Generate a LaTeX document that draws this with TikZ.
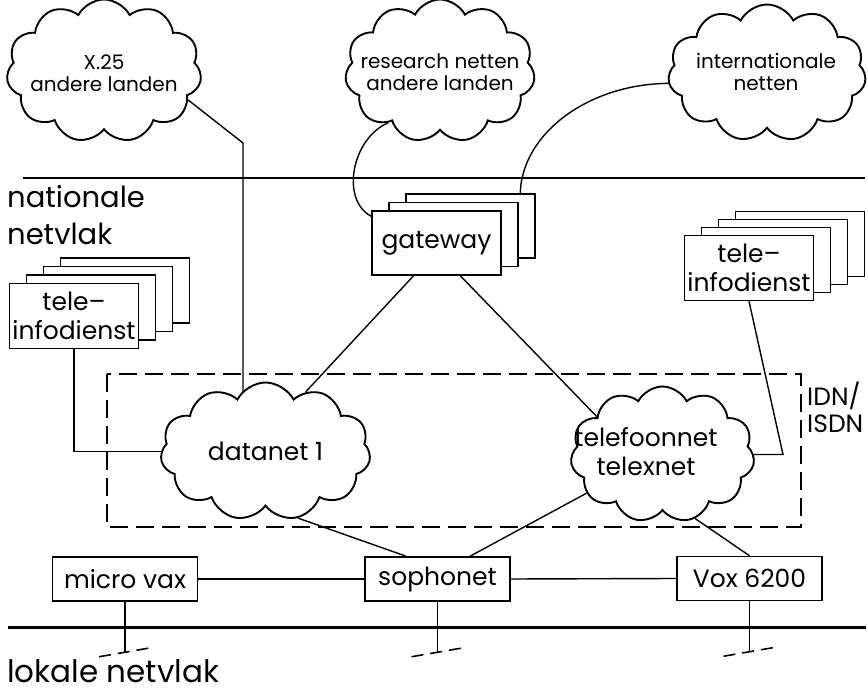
\documentclass[tikz,border=0pt]{standalone}
\usepackage{fontspec}
\setmainfont{Poppins}
\usetikzlibrary{shapes.symbols,calc}
\pgfdeclarelayer{bg}
\pgfsetlayers{bg,main}
\tikzset{
  txtbig/.style={font=\fontsize{25}{29}\selectfont},
  txtsmall/.style={font=\fontsize{20}{22}\selectfont},
  txtlevel/.style={font=\fontsize{29}{33}\selectfont},
  unitbox/.style={draw, line width=1.5pt, fill=white, inner sep=0pt, align=center, txtbig},
  gwbox/.style={unitbox, minimum width=129pt, minimum height=64pt},
  infobox/.style={unitbox, minimum width=129pt, minimum height=65pt},
  lanbox/.style={unitbox, minimum width=145pt, minimum height=44pt},
  netcloud/.style={cloud, draw, fill=white, line width=1.9pt, cloud puffs=11,
    cloud puff arc=125, cloud ignores aspect, inner sep=0pt, align=center},
  cloudtext/.style={txtsmall, align=center, inner sep=0pt},
  link/.style={line width=1.4pt},
  tapdash/.style={line width=1.6pt, dash pattern=on 12pt off 7pt},
}
\begin{document}
\begin{tikzpicture}[x=1pt,y=-1pt]
\useasboundingbox (0,0) rectangle (868,692);

% level boundaries
\draw[line width=1.8pt] (23,178) -- (865,178);
\draw[line width=3pt] (8,627) -- (866,627);

% IDN/ISDN domain
\draw[line width=1.5pt, dash pattern=on 18pt off 8pt] (107,374) rectangle (801,527);
\node[txtbig, anchor=base west, inner sep=0pt] (idn) at (807,406) {IDN/};
\node[txtbig, anchor=base west, inner sep=0pt] (isdn) at (807,433) {ISDN};

% level labels
\node[txtlevel, anchor=base west, inner sep=0pt, text depth=0pt] (nat1) at (7,208) {nationale};
\node[txtlevel, anchor=base west, inner sep=0pt, text depth=0pt] (nat2) at (7,245) {netvlak};
\node[font=\fontsize{31}{35}\selectfont, anchor=base west, inner sep=0pt, text depth=0pt] (lok) at (7,682) {lokale netvlak};

% external networks
\node[netcloud, minimum width=195pt, minimum height=143pt] (x25) at (104,71) {};
\node[cloudtext] (x25lbl) at (104,73) {X.25\\andere landen};
\node[netcloud, minimum width=190pt, minimum height=143pt] (rs) at (440,71) {};
\node[cloudtext] (rslbl) at (440,72) {research netten\\andere landen};
\node[netcloud, minimum width=198pt, minimum height=137pt] (in) at (767,73) {};
\node[cloudtext] (inlbl) at (766,72) {internationale\\netten};

% gateway stack
\node[gwbox] (gw3) at (470.5,226) {};
\node[gwbox] (gw2) at (453.5,234.5) {};
\node[gwbox] (gw) at (436.5,243) {gateway};

% left information service stack
\node[infobox] (lt4) at (125,290.5) {};
\node[infobox] (lt3) at (108,299) {};
\node[infobox] (lt2) at (91,307.5) {};
\node[infobox] (lt) at (74,316) {tele--\\infodienst};

% right information service stack
\node[infobox] (rt4) at (800,244) {};
\node[infobox] (rt3) at (783,252) {};
\node[infobox] (rt2) at (766,260) {};
\node[infobox] (rt) at (749,268) {tele--\\infodienst};

% national networks
\node[netcloud, txtbig, minimum width=210pt, minimum height=138pt] (dn) at (265.5,451.5) {datanet 1};
\node[netcloud, minimum width=184pt, minimum height=136pt] (tel) at (662.5,454.5) {};
\node[txtbig, align=center, inner sep=0pt] (tellbl) at (646,452) {telefoonnet\\telexnet};

% local systems
\node[lanbox] (mv) at (125,579) {micro vax};
\node[lanbox] (soph) at (437.5,579) {sophonet};
\node[lanbox] (vox) at (749.5,578.5) {Vox 6200};

% connections
\coordinate (kx) at (243,143);
\coordinate (rk) at (783,454.5);
\begin{pgfonlayer}{bg}
  \draw[link] (x25.-19) -- (kx) -- (kx |- dn.center);
\end{pgfonlayer}
\draw[link] (rs.-135) .. controls (352,138) and (340,200) .. ($(gw.north west)+(0,6)$);
\draw[link] (in.186) .. controls (589,84) and (522,133) .. ($(gw3.north west)+(115,0)$);
\draw[link] (gw.-125) -- (dn.56);
\draw[link] (gw.-54) -- (tel.150);
\draw[link] (lt.south) |- (dn.west);
\draw[link] (rt.south) -- (rk) -- (tel.east);
\draw[link] (dn.-64) -- (soph.144);
\draw[link] (tel.-153) -- (soph.35);
\draw[link] (tel.-63) -- (vox.north);
\draw[link] (mv.east) -- (soph.west);
\draw[link] (soph.east) -- (vox.west);

% taps onto the local bus
\foreach \n in {mv,soph,vox}{
  \draw[link] (\n.south) -- ++(0,50) coordinate (\n-g);
  \draw[tapdash] ($(\n-g)+(-26,5)$) -- ($(\n-g)+(26,-4)$);
}
\end{tikzpicture}
\end{document}
